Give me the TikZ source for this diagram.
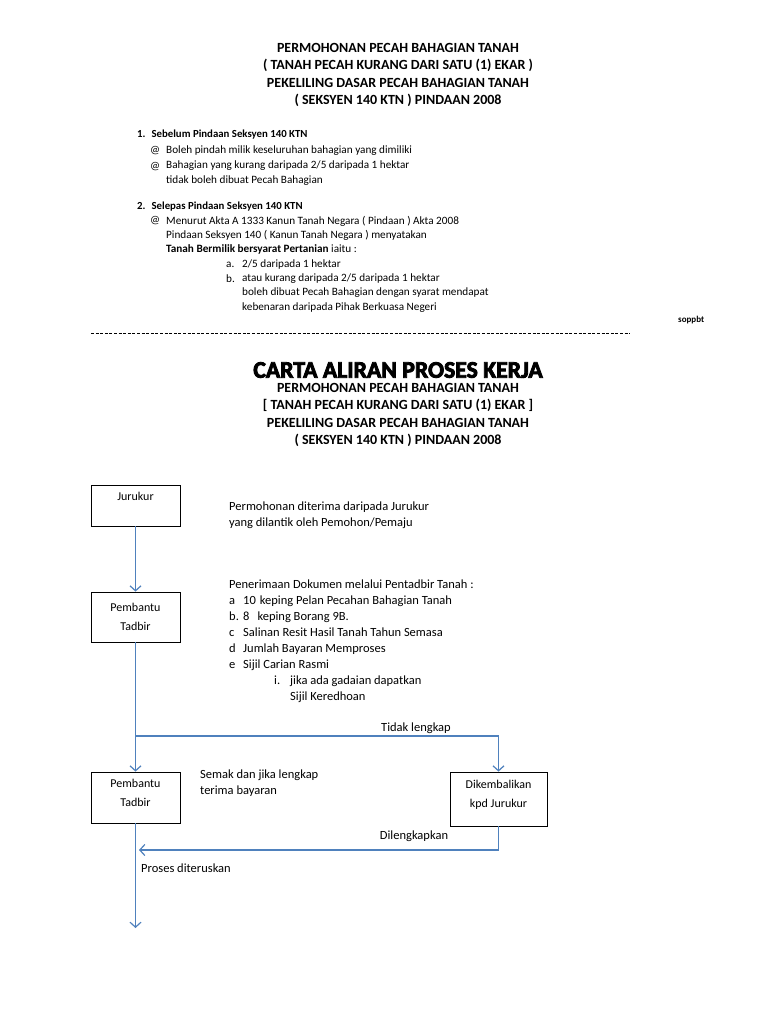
\documentclass[tikz,border=0pt]{standalone}
\usepackage{fontspec}
\setmainfont{Carlito}
\newfontfamily\heavyfont[BoldFeatures={FakeBold=3.5}]{Carlito}
\usepackage{tikz}
\usetikzlibrary{positioning,arrows.meta}
\usepackage{xcolor}
\definecolor{flowblue}{RGB}{79,129,189}

\tikzset{
    box/.style={draw, line width=0.8pt, align=center, minimum width=89pt,
        font=\fontsize{12}{19}\selectfont},
    flow/.style={draw=flowblue, line width=1.2pt,
        -{Straight Barb[length=5pt,width=11pt,line width=1.2pt]}},
    body/.style={anchor=base west, align=left, inner sep=0pt,
        font=\fontsize{11.2}{14.3}\selectfont},
    chart/.style={anchor=base west, align=left, inner sep=0pt,
        font=\fontsize{12.5}{16}\selectfont},
    title/.style={align=center, font=\bfseries\fontsize{14}{17.4}\selectfont},
}

\begin{document}
\begin{tikzpicture}[x=1pt, y=-1pt]

    % page
    \fill[white] (0,0) rectangle (768,1024);
    \useasboundingbox (0,0) rectangle (768,1024);

    % first heading
    \node[title] (headA) at (398,75) {PERMOHONAN PECAH BAHAGIAN TANAH\\
        ( TANAH PECAH KURANG DARI SATU (1) EKAR )\\
        PEKELILING DASAR PECAH BAHAGIAN TANAH\\
        ( SEKSYEN 140 KTN ) PINDAAN 2008};

    % before and after the amendment (base = last line)
    \node[body, font=\bfseries\fontsize{10.8}{14}\selectfont] (before) at (137,138)
        {1.\hspace{6pt}Sebelum Pindaan Seksyen 140 KTN};
    \node[body, font=\bfseries\fontsize{10.8}{14}\selectfont] (after) at (137,210)
        {2.\hspace{6pt}Selepas Pindaan Seksyen 140 KTN};
    \foreach \y/\nm in {154/atA,170/atB,224/atC}{
        \node[body] (\nm) at (150,\y) {@};
    }
    \node[body, font=\fontsize{11.2}{15}\selectfont] (beforeText) at (166,184)
        {Boleh pindah milik keseluruhan bahagian yang dimiliki\\
         Bahagian yang kurang daripada 2/5 daripada 1 hektar\\
         tidak boleh dibuat Pecah Bahagian};
    \node[body, font=\fontsize{11.2}{14}\selectfont] (afterText) at (166,252)
        {Menurut Akta A 1333 Kanun Tanah Negara ( Pindaan ) Akta 2008\\
         Pindaan Seksyen 140 ( Kanun Tanah Negara ) menyatakan\\
         \textbf{Tanah Bermilik bersyarat Pertanian} iaitu :};
    \foreach \y/\lab in {267/a,282/b}{
        \node[body] (item\lab) at (226,\y) {\lab.};
    }
    \node[body] (itemText) at (242,310)
        {2/5 daripada 1 hektar\\
         atau kurang daripada 2/5 daripada 1 hektar\\
         boleh dibuat Pecah Bahagian dengan syarat mendapat\\
         kebenaran daripada Pihak Berkuasa Negeri};
    \node[body, font=\bfseries\fontsize{9}{11}\selectfont] (sign) at (678,322) {soppbt};

    % separator
    \draw[line width=0.6pt, dash pattern=on 3pt off 1.6pt] (91,333) -- (630,333);

    % second heading
    \node[font=\heavyfont\bfseries\fontsize{23.7}{24}\selectfont, inner sep=0pt] (chartTitle)
        at (398,370) {CARTA ALIRAN PROSES KERJA};
    \node[title] (headB) at (398,415) {PERMOHONAN PECAH BAHAGIAN TANAH\\
        {[} TANAH PECAH KURANG DARI SATU (1) EKAR ]\\
        PEKELILING DASAR PECAH BAHAGIAN TANAH\\
        ( SEKSYEN 140 KTN ) PINDAAN 2008};

    % boxes
    \node[box, minimum height=41pt, text depth=18pt] (surveyor) at (135.5,505.5) {Jurukur};
    \node[box, minimum height=50pt] (clerkA) at (135.5,617) {Pembantu\\Tadbir};
    \node[box, minimum height=51pt, text depth=9pt] (clerkB) at (135.5,797.5) {Pembantu\\Tadbir};
    \node[box, minimum height=54pt, minimum width=97pt, text depth=11pt] (returned)
        at (498.5,799) {Dikembalikan\\kpd Jurukur};

    % notes beside the boxes
    \node[chart] (noteA) at (229,526)
        {Permohonan diterima daripada Jurukur\\yang dilantik oleh Pemohon/Pemaju};
    \node[chart] (noteB) at (229,588) {Penerimaan Dokumen melalui Pentadbir Tanah :};
    \foreach \i/\lab/\txt in {0/a/{10\hspace{4pt}keping Pelan Pecahan Bahagian Tanah},
        1/b./{8\hspace{8pt}keping Borang 9B.},
        2/c/{Salinan Resit Hasil Tanah Tahun Semasa},
        3/d/{Jumlah Bayaran Memproses},
        4/e/{Sijil Carian Rasmi}}{
        \node[chart] (doc\i) at (229,604+16*\i) {\lab};
        \node[chart] (docText\i) at (243,604+16*\i) {\txt};
    }
    \node[chart] (subI) at (274,684) {i.};
    \node[chart] (subText) at (290,700) {jika ada gadaian dapatkan\\Sijil Keredhoan};
    \node[chart] (noteC) at (200,794) {Semak dan jika lengkap\\terima bayaran};

    % connectors
    \coordinate (split) at (135.5,736);
    \coordinate (merge) at (139,850);
    \coordinate (finish) at (135.5,928);
    \draw[flow] (surveyor) -- (clerkA);
    \draw[flow] (clerkA) -- (clerkB);
    \draw[flow] (split) -| (returned);
    \draw[flow] (returned.south) |- (merge);
    \draw[flow] (clerkB) -- (finish);

    % connector labels
    \node[chart, anchor=base] (lblMissing) at (416,731) {Tidak lengkap};
    \node[chart, anchor=base] (lblDone) at (414,839) {Dilengkapkan};
    \node[chart] (lblOn) at (141,872) {Proses diteruskan};
\end{tikzpicture}
\end{document}
